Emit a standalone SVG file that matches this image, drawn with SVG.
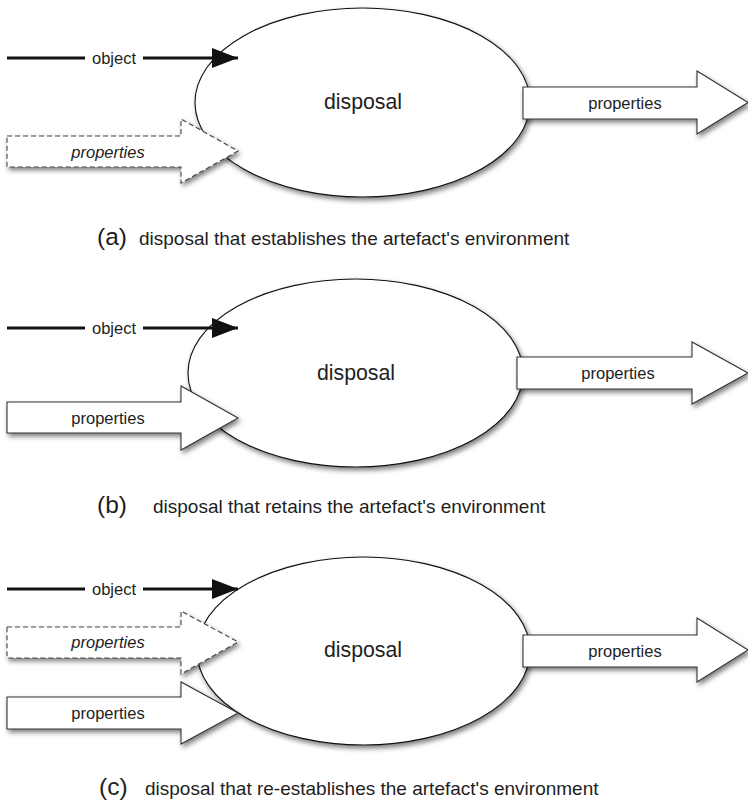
<svg xmlns="http://www.w3.org/2000/svg" width="748" height="804" viewBox="0 0 748 804">
  <defs>
    <filter id="shadow" x="-10%" y="-20%" width="130%" height="150%">
      <feDropShadow dx="2" dy="3" stdDeviation="2.5" flood-color="#000" flood-opacity="0.5"/>
    </filter>
    <marker id="head" viewBox="0 0 26 20" refX="26" refY="10" markerWidth="26" markerHeight="20" markerUnits="userSpaceOnUse" orient="auto">
      <path d="M0,0 L26,10 L0,20 Z" fill="#111"/>
    </marker>
  </defs>
  <style>
    .proc { fill: #fff; stroke: #111; stroke-width: 1.1; filter: url(#shadow); }
    .block { fill: #fff; stroke: #333; stroke-width: 1.1; filter: url(#shadow); }
    .dashed { fill: #fff; stroke: #444; stroke-width: 1.1; stroke-dasharray: 5 3; filter: url(#shadow); }
    .flow { stroke: #111; stroke-width: 3.2; fill: none; }
    text { font-family: "Liberation Sans", Arial, Helvetica, sans-serif; fill: #1e1e1e; }
    .lbl { font-size: 16.5px; text-anchor: middle; }
    .ital { font-style: italic; }
    .big { font-size: 21.3px; text-anchor: middle; }
    .cap { font-size: 19px; }
    .tag { font-size: 24.5px; }
  </style>

  <!-- processes -->
  <g id="disposal-a"><ellipse class="proc" cx="362.5" cy="102.5" rx="167.5" ry="94.5"/><text class="big" x="363" y="109">disposal</text></g>
  <g id="disposal-b"><ellipse class="proc" cx="355.5" cy="373" rx="167.5" ry="94"/><text class="big" x="356" y="380">disposal</text></g>
  <g id="disposal-c"><ellipse class="proc" cx="363.5" cy="651" rx="166.5" ry="94"/><text class="big" x="363" y="657">disposal</text></g>

  <!-- flows in and out of each disposal -->
  <g id="connectors">
    <!-- (a) -->
    <g id="props-out-a"><path class="block" d="M523,87 H697 V71 L748,102.5 L697,134 V119 H523 Z"/><text class="lbl" x="625" y="108.5">properties</text></g>
    <g id="props-in-a"><path class="dashed" d="M7,136 H181 V119 L238,151 L181,183 V167 H7 Z"/><text class="lbl ital" x="108" y="157.5">properties</text></g>
    <g id="object-a">
      <line class="flow" x1="7" y1="58" x2="85" y2="58"/>
      <line class="flow" x1="143" y1="58" x2="238" y2="58" marker-end="url(#head)"/>
      <text class="lbl" x="114" y="63.5">object</text>
    </g>

    <!-- (b) -->
    <g id="props-out-b"><path class="block" d="M517,357 H692 V342 L748,373 L692,404 V389 H517 Z"/><text class="lbl" x="618" y="379">properties</text></g>
    <g id="props-in-b"><path class="block" d="M7,402 H181 V386 L238,418 L181,450 V433 H7 Z"/><text class="lbl" x="108" y="424">properties</text></g>
    <g id="object-b">
      <line class="flow" x1="7" y1="328" x2="85" y2="328"/>
      <line class="flow" x1="143" y1="328" x2="238" y2="328" marker-end="url(#head)"/>
      <text class="lbl" x="114" y="333.5">object</text>
    </g>

    <!-- (c) -->
    <g id="props-out-c"><path class="block" d="M523,635 H697 V618 L748,650 L697,682 V667 H523 Z"/><text class="lbl" x="625" y="657">properties</text></g>
    <g id="props-in-c2"><path class="block" d="M7,697 H181 V682 L238,713 L181,744 V729 H7 Z"/><text class="lbl" x="108" y="719">properties</text></g>
    <g id="props-in-c1"><path class="dashed" d="M7,627 H181 V611 L238,642 L181,674 V658 H7 Z"/><text class="lbl ital" x="108" y="648">properties</text></g>
    <g id="object-c">
      <line class="flow" x1="7" y1="589" x2="85" y2="589"/>
      <line class="flow" x1="143" y1="589" x2="238" y2="589" marker-end="url(#head)"/>
      <text class="lbl" x="114" y="594.5">object</text>
    </g>
  </g>

  <!-- captions -->
  <g id="caption-a"><text class="tag" x="97" y="245">(a)</text><text class="cap" x="139" y="245">disposal that establishes the artefact's environment</text></g>
  <g id="caption-b"><text class="tag" x="97" y="513">(b)</text><text class="cap" x="153" y="513">disposal that retains the artefact's environment</text></g>
  <g id="caption-c"><text class="tag" x="99" y="795">(c)</text><text class="cap" x="145" y="795">disposal that re-establishes the artefact's environment</text></g>
</svg>
